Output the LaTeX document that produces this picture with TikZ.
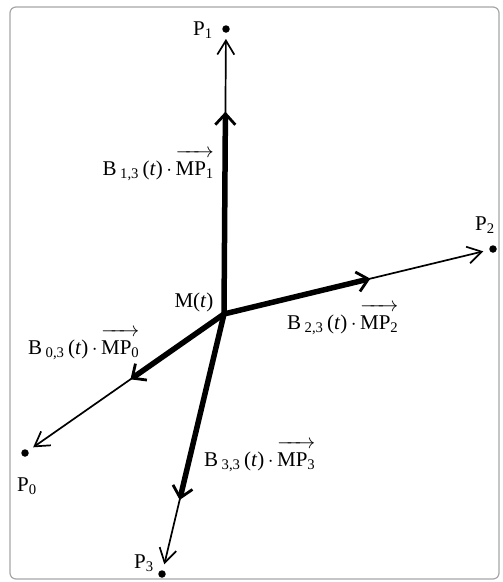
\documentclass[tikz,border=0pt]{standalone}
\usepackage{amsmath}
\usepackage{fontspec}
\setmainfont{Liberation Serif}
\usetikzlibrary{arrows.meta,calc}
\newcommand{\vecMP}[1]{$\overrightarrow{\rule{0pt}{0.82em}\text{MP}_{\text{#1}}}$}
\begin{document}
\begin{tikzpicture}[x=1pt,y=-1pt,
  dot/.style={circle,fill=black,inner sep=0pt,minimum size=7.5pt},
  thinvec/.style={line width=1.7pt,-{Straight Barb[length=14pt,width=17pt,line width=1.7pt]},shorten >=6pt},
  thickvec/.style={line width=5.5pt,-{Straight Barb[length=11pt,width=20pt,line width=2.8pt]}},
  lbl/.style={font=\fontsize{21}{24}\selectfont,inner sep=0pt},
  frame/.style={draw=black!35,line width=1.2pt,rounded corners=6pt}]
\useasboundingbox (0,0) rectangle (503,582);
\draw[frame] (10,7) rectangle (499,579);
\coordinate (M) at (224,314);
\node[dot] (P1) at (226,29) {};
\node[dot] (P2) at (493,249) {};
\node[dot] (P0) at (25,453) {};
\node[dot] (P3) at (162,574) {};
\coordinate (T1) at ($(M)!0.71!(P1)$);
\coordinate (T2) at ($(M)!0.544!(P2)$);
\coordinate (T0) at ($(M)!0.47!(P0)$);
\coordinate (T3) at ($(M)!0.715!(P3)$);
\draw[thinvec] (M) -- (P1);
\draw[thinvec] (M) -- (P2);
\draw[thinvec] (M) -- (P0);
\draw[thinvec] (M) -- (P3);
\draw[thickvec] (M) -- (T1);
\draw[thickvec] (M) -- (T2);
\draw[thickvec] (M) -- (T0);
\draw[thickvec] (M) -- (T3);
\node[lbl] (lP1) at (203,30) {P$_{\text{1}}$};
\node[lbl] (lP2) at (485,225) {P$_{\text{2}}$};
\node[lbl] (lP0) at (27,486) {P$_{\text{0}}$};
\node[lbl] (lP3) at (144,563) {P$_{\text{3}}$};
\node[lbl] (lM) at (194,302) {M(\textit{t})};
\node[lbl,anchor=base east] (L1) at (214,175) {B\,$_{\text{1,3}}$\,(\textit{t})\,$\cdot$\,\vecMP{1}};
\node[lbl,anchor=base west] (L0) at (28,354) {B\,$_{\text{0,3}}$\,(\textit{t})\,$\cdot$\,\vecMP{0}};
\node[lbl,anchor=base west] (L2) at (287,329) {B\,$_{\text{2,3}}$\,(\textit{t})\,$\cdot$\,\vecMP{2}};
\node[lbl,anchor=base west] (L3) at (204,466) {B\,$_{\text{3,3}}$\,(\textit{t})\,$\cdot$\,\vecMP{3}};
\end{tikzpicture}
\end{document}
